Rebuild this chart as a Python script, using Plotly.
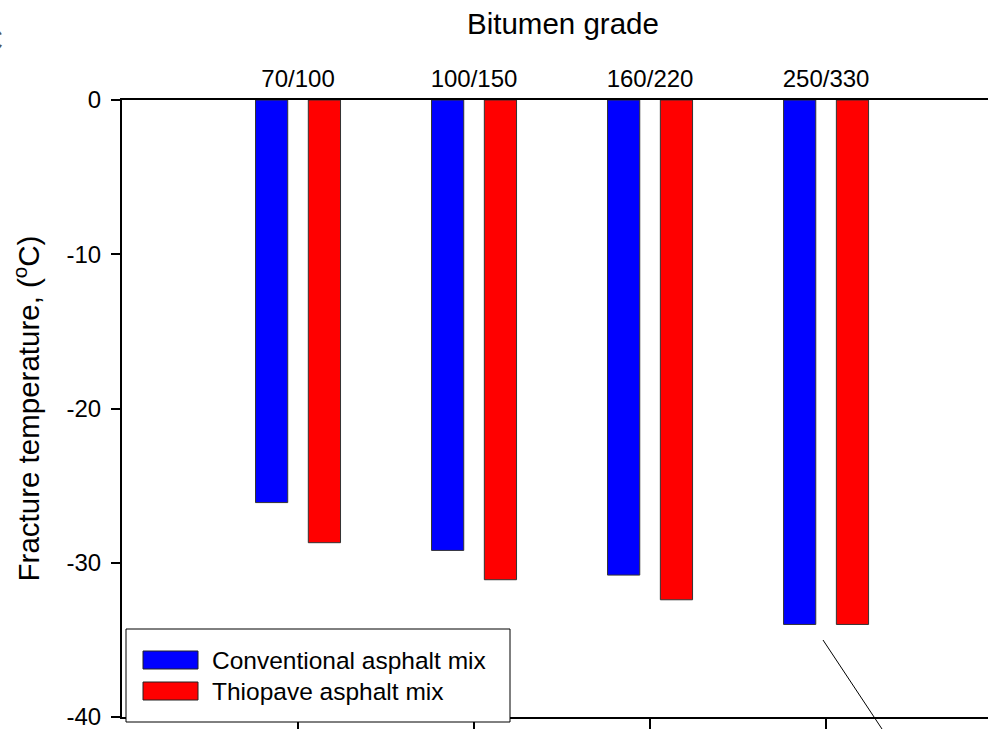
import plotly.graph_objects as go

grades = ["70/100", "100/150", "160/220", "250/330"]
conventional = [-26.1, -29.2, -30.8, -34.0]
thiopave = [-28.7, -31.1, -32.4, -34.0]
series_names = ["Conventional asphalt mix", "Thiopave asphalt mix"]
series_colors = ["#0000FF", "#FF0000"]
y_ticks = [0, -10, -20, -30, -40]
y_tick_text = ["0", "-10", "-20", "-30", "-40"]

FONT = "Arial, Liberation Sans, sans-serif"

# plot-area geometry in pixels
L, T, W, H = 122, 100, 866, 617


def px(xp):
    return (xp - L) / W


def py(yp):
    return (T + H - yp) / H


fig = go.Figure()
for vals, name, col in zip([conventional, thiopave], series_names, series_colors):
    fig.add_trace(go.Bar(
        x=grades, y=vals, name=name, showlegend=False,
        marker=dict(color=col, line=dict(color="#333333", width=1)),
    ))
# carrier trace for the top category axis
fig.add_trace(go.Scatter(
    x=grades, y=[-1] * len(grades), xaxis="x2", showlegend=False,
    hoverinfo="skip", mode="markers", marker=dict(opacity=0),
))

xr = [-1, 3.92]
shapes = [
    # legend box
    dict(type="rect", xref="paper", yref="paper", layer="above",
         x0=px(126), x1=px(510), y0=py(722), y1=py(629),
         fillcolor="white", line=dict(color="black", width=1)),
    # pointer line
    dict(type="line", xref="paper", yref="paper",
         x0=px(823), y0=py(640), x1=px(882), y1=py(729),
         line=dict(color="black", width=1)),
]
annotations = [
    dict(text="Bitumen grade", xref="paper", yref="paper",
         x=px(563), y=py(24), showarrow=False,
         font=dict(size=29.5), xanchor="center", yanchor="middle"),
    dict(text="C", xref="paper", yref="paper",
         x=px(5), y=py(40), showarrow=False,
         font=dict(size=32, color="#555555"), xanchor="right",
         yanchor="middle"),
]
for i, (name, col) in enumerate(zip(series_names, series_colors)):
    yc = 660 + 31 * i
    shapes.append(dict(type="rect", xref="paper", yref="paper", layer="above",
                       x0=px(143), x1=px(198), y0=py(yc + 9), y1=py(yc - 9),
                       fillcolor=col, line=dict(color="#222222", width=1)))
    annotations.append(dict(text=name, xref="paper", yref="paper",
                            x=px(210), y=py(yc), showarrow=False,
                            font=dict(size=24.5), xanchor="left",
                            yanchor="middle"))

fig.update_layout(
    width=988, height=729,
    margin=dict(l=L, r=988 - L - W, t=T, b=729 - T - H),
    paper_bgcolor="white", plot_bgcolor="white",
    font=dict(family=FONT, color="black", size=24),
    barmode="group", bargap=0.4, bargroupgap=0.39,
    showlegend=False,
    xaxis=dict(
        type="category", categoryorder="array", categoryarray=grades,
        range=xr, showticklabels=False, ticks="outside", ticklen=12,
        tickwidth=1.5, tickcolor="black", showline=True, linecolor="black",
        linewidth=2, showgrid=False, zeroline=False, automargin=False,
    ),
    xaxis2=dict(
        type="category", categoryorder="array", categoryarray=grades,
        range=xr, overlaying="x", side="top", showticklabels=True,
        ticks="", showline=True, linecolor="black", linewidth=2,
        showgrid=False, zeroline=False, tickfont=dict(size=24),
        automargin=False, ticklabelstandoff=1,
    ),
    yaxis=dict(
        range=[-40, 0], tickvals=y_ticks, ticktext=y_tick_text,
        ticks="outside", ticklen=9, ticklabeloverflow="allow",
        tickwidth=1.5, tickcolor="black", showline=True, linecolor="black",
        linewidth=2, showgrid=False, zeroline=False, automargin=False,
        tickfont=dict(size=24), ticklabelstandoff=5,
        title=dict(text="Fracture temperature, (<sup>o</sup>C)",
                   font=dict(size=29.5), standoff=18),
    ),
    annotations=annotations,
    shapes=shapes,
)

fig.write_html("out.html", post_script="document.body.style.margin='0';",
               config={"displayModeBar": False})
